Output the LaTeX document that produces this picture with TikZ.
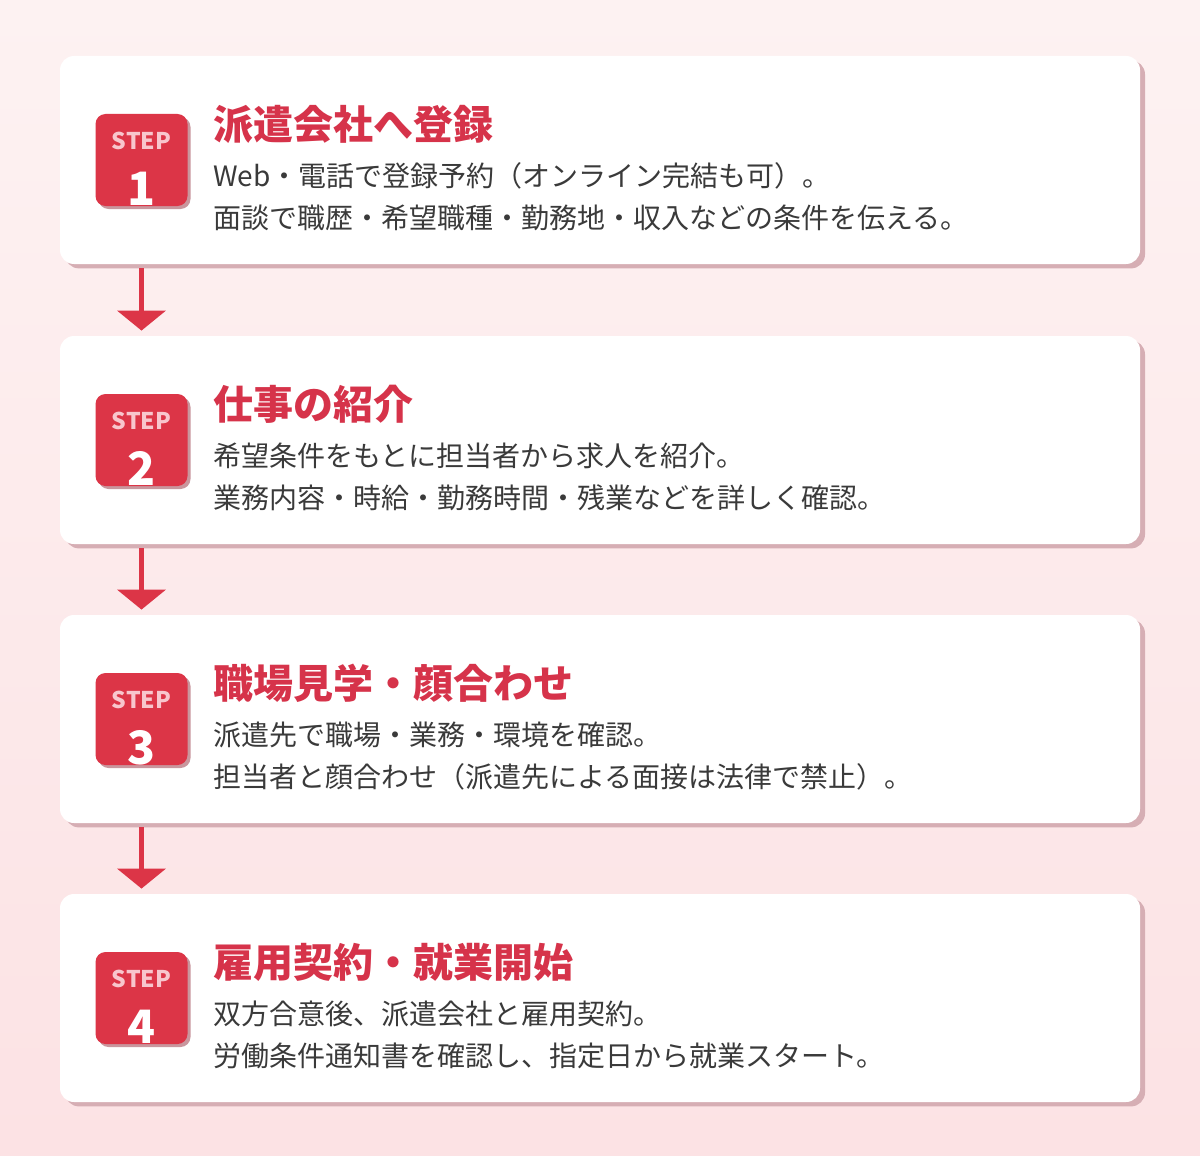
\documentclass[tikz,border=0pt]{standalone}
\usepackage{fontspec}
\setmainfont{Noto Sans CJK JP}
\usetikzlibrary{arrows.meta,positioning,calc,shadows}
\definecolor{bgtop}{HTML}{FDF2F2}
\definecolor{bgbot}{HTML}{FCE2E4}
\definecolor{stepred}{HTML}{DC3547}
\definecolor{titlered}{HTML}{D6334A}
\definecolor{steppink}{HTML}{F8C6CD}
\definecolor{ink}{HTML}{3A3A3A}
\definecolor{cardshade}{HTML}{D6AEB4}
\definecolor{badgeshade}{HTML}{C9969D}
\tikzset{card/.style={rectangle,rounded corners=7pt,fill=white,minimum width=540pt,minimum height=104pt,
    general shadow={fill=cardshade,shadow xshift=2.5pt,shadow yshift=-2.2pt}},
  badge/.style={rectangle,rounded corners=5pt,fill=stepred,minimum size=46pt,inner sep=0pt,
    general shadow={fill=badgeshade,shadow xshift=1.5pt,shadow yshift=-1.5pt}},
  steplbl/.style={text=steppink,font=\bfseries\fontsize{11.5}{11.5}\selectfont,inner sep=0pt,anchor=base},
  stepnum/.style={text=white,font=\bfseries\fontsize{23}{23}\selectfont,inner sep=0pt,anchor=base},
  ttl/.style={text=titlered,font=\bfseries\fontsize{20}{20}\selectfont,inner sep=0pt,anchor=west},
  body/.style={text=ink,font=\fontsize{14}{14}\selectfont,inner sep=0pt,anchor=west},
  flow/.style={draw=stepred,line width=2.25pt,-{Triangle[width=24pt,length=10pt]},shorten <=2pt,shorten >=2.5pt}}
\begin{document}
\begin{tikzpicture}[x=.5pt,y=-.5pt]
\fill[top color=bgtop,bottom color=bgbot] (0,0) rectangle (1200,1156);
% step 1
\node[card] (card1) at (600,160) {};
\node[badge] (badge1) at (141.5,160) {};
\node[steplbl] (step1) at ([yshift=-18pt]badge1.north) {STEP};
\node[stepnum] (num1) at ([yshift=.5pt]badge1.south) {1};
\node[ttl] (title1) at (213,124) {派遣会社へ登録};
\node[body] (desc1a) at (213,176) {Web・電話で登録予約（オンライン完結も可）。};
\node[body] (desc1b) at (213,218) {面談で職歴・希望職種・勤務地・収入などの条件を伝える。};
% step 2
\node[card] (card2) at (600,440) {};
\node[badge] (badge2) at (141.5,440) {};
\node[steplbl] (step2) at ([yshift=-18pt]badge2.north) {STEP};
\node[stepnum] (num2) at ([yshift=.5pt]badge2.south) {2};
\node[ttl] (title2) at (213,404) {仕事の紹介};
\node[body] (desc2a) at (213,456) {希望条件をもとに担当者から求人を紹介。};
\node[body] (desc2b) at (213,498) {業務内容・時給・勤務時間・残業などを詳しく確認。};
% step 3
\node[card] (card3) at (600,719) {};
\node[badge] (badge3) at (141.5,719) {};
\node[steplbl] (step3) at ([yshift=-18pt]badge3.north) {STEP};
\node[stepnum] (num3) at ([yshift=.5pt]badge3.south) {3};
\node[ttl] (title3) at (213,683) {職場見学・顔合わせ};
\node[body] (desc3a) at (213,735) {派遣先で職場・業務・環境を確認。};
\node[body] (desc3b) at (213,777) {担当者と顔合わせ（派遣先による面接は法律で禁止）。};
% step 4
\node[card] (card4) at (600,998) {};
\node[badge] (badge4) at (141.5,998) {};
\node[steplbl] (step4) at ([yshift=-18pt]badge4.north) {STEP};
\node[stepnum] (num4) at ([yshift=.5pt]badge4.south) {4};
\node[ttl] (title4) at (213,962) {雇用契約・就業開始};
\node[body] (desc4a) at (213,1014) {双方合意後、派遣会社と雇用契約。};
\node[body] (desc4b) at (213,1056) {労働条件通知書を確認し、指定日から就業スタート。};
% arrows
\draw[flow] (badge1 |- card1.south) -- (badge2 |- card2.north);
\draw[flow] (badge2 |- card2.south) -- (badge3 |- card3.north);
\draw[flow] (badge3 |- card3.south) -- (badge4 |- card4.north);
\end{tikzpicture}
\end{document}
